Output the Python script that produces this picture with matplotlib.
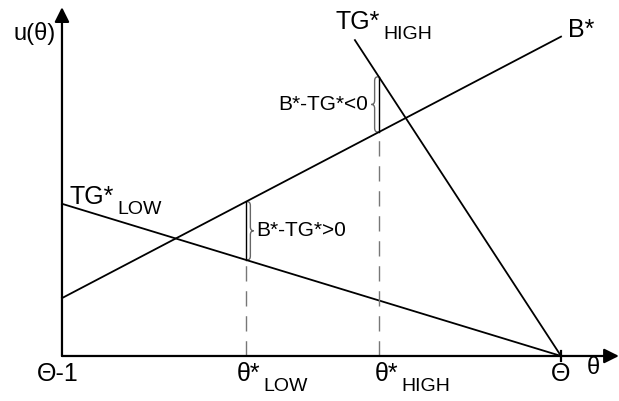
import matplotlib.pyplot as plt
from matplotlib.path import Path
from matplotlib.patches import PathPatch

plt.rcParams['font.family'] = ['Liberation Sans', 'DejaVu Sans']

# theta runs from Theta-1 (0) to Theta (1)
theta_ends = [0.0, 1.0]
b_star = [0.116, 0.640]          # B* at Theta-1 and Theta
tg_low = [0.305, 0.0]            # TG*_LOW at Theta-1 and Theta
tg_high_x = [0.587, 1.0]         # TG*_HIGH drawn from its top end down to Theta
tg_high_y = [0.633, 0.0]
theta_low = 0.369                # theta*_LOW
theta_high = 0.635               # theta*_HIGH

tick_labels = ['Θ-1', 'θ*', 'θ*', 'Θ']
tick_subs = ['', 'LOW', 'HIGH', '']


def interp(x, xs, ys):
    return ys[0] + (ys[1] - ys[0]) * (x - xs[0]) / (xs[1] - xs[0])


def brace(ax, x0, y0, y1, w, h, color='#666666'):
    # vertical curly brace from y0 to y1, tip sticking out by w (sign gives side)
    ym = (y0 + y1) / 2
    xm = x0 + w / 2
    verts = [(x0, y0), (xm, y0), (xm, y0 + h),
             (xm, ym - h),
             (xm, ym), (x0 + w, ym),
             (xm, ym), (xm, ym + h),
             (xm, y1 - h),
             (xm, y1), (x0, y1)]
    codes = [Path.MOVETO, Path.CURVE3, Path.CURVE3,
             Path.LINETO,
             Path.CURVE3, Path.CURVE3,
             Path.CURVE3, Path.CURVE3,
             Path.LINETO,
             Path.CURVE3, Path.CURVE3]
    ax.add_patch(PathPatch(Path(verts, codes), fill=False, ec=color, lw=1.0))


fig = plt.figure(figsize=(6.19, 4.01), dpi=100)
ax = fig.add_axes([0, 0, 1, 1])
ax.set_xlim(-0.1242, 1.1162)
ax.set_ylim(-0.0902, 0.7134)
ax.axis('off')

# axes with arrow heads
arrow = dict(arrowstyle='-|>', mutation_scale=22, lw=1.6, color='black',
             shrinkA=0, shrinkB=0)
ax.annotate('', xy=(1.116, 0), xytext=(0, 0), arrowprops=arrow)
ax.annotate('', xy=(0, 0.699), xytext=(0, 0), arrowprops=arrow)
ax.plot([1.0, 1.0], [-0.010, 0.010], color='black', lw=1.6)

# the three lines
ax.plot(theta_ends, b_star, color='black', lw=1.3)
ax.plot(theta_ends, tg_low, color='black', lw=1.3)
ax.plot(tg_high_x, tg_high_y, color='black', lw=1.3)

# theta*_LOW: gap between B* and TG*_LOW
b_lo = interp(theta_low, theta_ends, b_star)
t_lo = interp(theta_low, theta_ends, tg_low)
ax.plot([theta_low, theta_low], [0, t_lo], color='#777777', lw=1.0,
        dashes=(11, 7))
ax.plot([theta_low, theta_low], [t_lo, b_lo], color='black', lw=1.0)
brace(ax, theta_low + 0.002, t_lo, b_lo, 0.013, 0.008)
ax.text(theta_low + 0.021, (t_lo + b_lo) / 2, 'B*-TG*>0', fontsize=15,
        ha='left', va='center')

# theta*_HIGH: gap between TG*_HIGH and B*
b_hi = interp(theta_high, theta_ends, b_star)
t_hi = interp(theta_high, tg_high_x, tg_high_y)
ax.plot([theta_high, theta_high], [0, b_hi], color='#777777', lw=1.0,
        dashes=(11, 7))
ax.plot([theta_high, theta_high], [b_hi, t_hi], color='black', lw=1.0)
brace(ax, theta_high - 0.002, b_hi, t_hi, -0.013, 0.008)
ax.text(theta_high - 0.021, (b_hi + t_hi) / 2, 'B*-TG*<0', fontsize=15,
        ha='right', va='center')


def label(x, y, main, sub, size=18, subsize=14, ha='left'):
    t = ax.text(x, y, main, fontsize=size, ha=ha, va='baseline')
    if sub:
        ax.annotate(sub, xy=(1, 0), xycoords=t, xytext=(2, -4),
                    textcoords='offset points', fontsize=subsize,
                    ha='left', va='baseline')
    return t


# line labels
label(0.016, 0.305, 'TG*', 'LOW')
label(0.549, 0.656, 'TG*', 'HIGH')
label(1.014, 0.640, 'B*', '')

# axis labels
ax.text(-0.054, 0.646, 'u(θ)', fontsize=17, ha='center', va='center')
ax.text(1.064, -0.024, 'θ', fontsize=17, ha='center', va='center')

# tick labels on the theta axis
tick_pos = [-0.008, theta_low - 0.012, theta_high - 0.002, 1.0]
for x, main, sub in zip(tick_pos, tick_labels, tick_subs):
    if sub:
        label(x - 0.006, -0.050, main, sub, ha='left')
    else:
        ax.text(x, -0.050, main, fontsize=18, ha='center', va='baseline')

fig.savefig('out.png', dpi=100)
